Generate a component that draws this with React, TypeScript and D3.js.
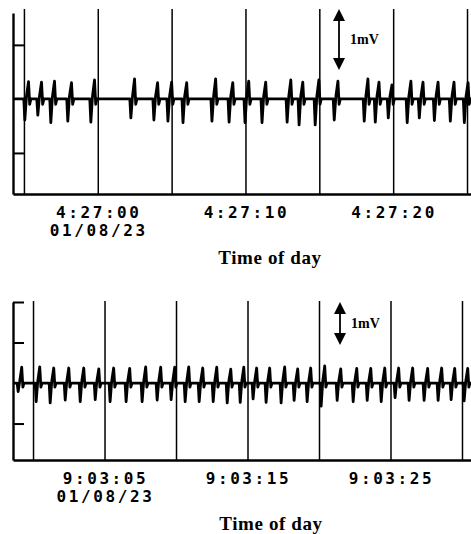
import * as React from 'react';
import * as d3 from 'd3';

// top strip: seconds relative to 4:27:00
const topBeatTimes = [-4.81, -3.93, -3.05, -1.9, -0.34, 2.37, 3.93, 4.88, 5.9, 7.86, 9.02, 10.1, 11.25, 12.95, 13.76, 14.85, 16.14, 18.17, 18.92, 19.8, 21.08, 21.9, 22.92, 24.0, 24.95];
const topBeatUp = [0.32, 0.31, 0.33, 0.3, 0.35, 0.37, 0.3, 0.31, 0.3, 0.37, 0.3, 0.33, 0.31, 0.35, 0.31, 0.35, 0.33, 0.37, 0.31, 0.26, 0.33, 0.31, 0.31, 0.31, 0.3];
const topBeatDown = [0.39, 0.3, 0.44, 0.41, 0.43, 0.35, 0.39, 0.41, 0.44, 0.41, 0.43, 0.44, 0.44, 0.43, 0.48, 0.48, 0.39, 0.41, 0.43, 0.35, 0.44, 0.35, 0.4, 0.41, 0.44];
const topGridSeconds = [-5, 0, 5, 10, 15, 20, 25];
const topTickSeconds = [0, 10, 20];
const topTickLabels = ['4:27:00', '4:27:10', '4:27:20'];

// bottom strip: seconds relative to 9:03:00
const bottomBeatTimes = [-0.91, 0.35, 1.33, 2.38, 3.43, 4.48, 5.52, 6.64, 7.76, 8.81, 9.79, 10.77, 11.75, 12.73, 13.71, 14.62, 15.52, 16.43, 17.48, 18.39, 19.3, 20.28, 21.4, 22.52, 23.5, 24.48, 25.45, 26.43, 27.48, 28.46, 29.37, 30.28];
const bottomBeatUp = [0.39, 0.4, 0.37, 0.37, 0.37, 0.35, 0.37, 0.36, 0.4, 0.39, 0.39, 0.4, 0.37, 0.39, 0.34, 0.39, 0.37, 0.37, 0.4, 0.35, 0.37, 0.42, 0.35, 0.36, 0.36, 0.37, 0.37, 0.37, 0.36, 0.37, 0.36, 0.36];
const bottomBeatDown = [0.21, 0.46, 0.49, 0.42, 0.46, 0.41, 0.46, 0.46, 0.46, 0.42, 0.41, 0.46, 0.46, 0.46, 0.49, 0.48, 0.39, 0.48, 0.49, 0.43, 0.46, 0.57, 0.43, 0.46, 0.43, 0.46, 0.36, 0.43, 0.43, 0.43, 0.41, 0.44];
const bottomGridSeconds = [0, 5, 10, 15, 20, 25, 30];
const bottomTickSeconds = [5, 15, 25];
const bottomTickLabels = ['9:03:05', '9:03:15', '9:03:25'];

const dateLabel = '01/08/23';
const axisTitle = 'Time of day';
const scaleLabel = '1mV';

const W = 471;
const H = 534;

type Panel = {
  times: number[];
  up: number[];
  down: number[];
  grid: number[];
  ticks: number[];
  labels: string[];
  yTicks: number[];
  xDomain: [number, number];
  yDomain: [number, number];
  top: number;
  bottom: number;
  gridTop: number;
  arrowX: number;
  arrowTop: number;
  arrowBottom: number;
  titleX: number;
};

const panels: Panel[] = [
  {
    times: topBeatTimes, up: topBeatUp, down: topBeatDown,
    grid: topGridSeconds, ticks: topTickSeconds, labels: topTickLabels,
    yTicks: [1, -1],
    xDomain: [-5.74, 25.27], yDomain: [-1.76, 1.59],
    top: 13, bottom: 194, gridTop: 9,
    arrowX: 339, arrowTop: 9, arrowBottom: 70, titleX: 270,
  },
  {
    times: bottomBeatTimes, up: bottomBeatUp, down: bottomBeatDown,
    grid: bottomGridSeconds, ticks: bottomTickSeconds, labels: bottomTickLabels,
    yTicks: [2, 1, -1],
    xDomain: [-1.4, 30.63], yDomain: [-1.9, 2.0],
    top: 302, bottom: 460, gridTop: 301,
    arrowX: 340, arrowTop: 302, arrowBottom: 345, titleX: 271,
  },
];

const App: React.FC = () => {
  const svgRef = React.useRef<SVGSVGElement>(null);

  React.useEffect(() => {
    const svg = d3.select(svgRef.current);
    svg.selectAll('*').remove();

    panels.forEach((p) => {
      const g = svg.append('g');
      const x = d3.scaleLinear().domain(p.xDomain).range([13, W]);
      const y = d3.scaleLinear().domain(p.yDomain).range([p.bottom, p.top]);

      // time gridlines + bottom axis
      g.append('g')
        .attr('transform', `translate(0,${p.bottom})`)
        .call(d3.axisBottom(x).tickValues(p.grid).tickSize(-(p.bottom - p.gridTop)).tickSizeOuter(0).tickFormat(() => ''))
        .call((a) => a.select('.domain').attr('stroke-width', 2.4))
        .call((a) => a.selectAll('.tick line').attr('stroke-width', 1.5));

      // left amplitude axis, ticks pointing inwards
      g.append('g')
        .attr('transform', 'translate(13,0)')
        .call(d3.axisRight(y).tickValues(p.yTicks).tickSize(11).tickSizeOuter(0).tickFormat(() => ''))
        .call((a) => a.select('.domain').attr('stroke-width', 2.4))
        .call((a) => a.selectAll('.tick line').attr('stroke-width', 2));

      // trace
      const pts: [number, number][] = [[p.xDomain[0], 0]];
      p.times.forEach((t, i) => {
        pts.push([t - 0.2, 0]);
        pts.push([t - 0.13, -p.down[i]]);
        pts.push([t - 0.02, 0.04]);
        pts.push([t + 0.12, p.up[i]]);
        pts.push([t + 0.2, -0.1]);
        pts.push([t + 0.28, 0]);
      });
      pts.push([p.xDomain[1], 0]);
      const line = d3.line<[number, number]>().x((d) => x(d[0])).y((d) => y(d[1]));
      g.append('path')
        .attr('d', line(pts))
        .attr('fill', 'none')
        .attr('stroke', '#000')
        .attr('stroke-width', 2.8)
        .attr('stroke-linejoin', 'round');

      // tick labels
      const lab = g.append('g')
        .attr('font-family', 'DejaVu Sans Mono')
        .attr('font-weight', 'bold')
        .attr('font-size', 16)
        .attr('letter-spacing', 2.6)
        .attr('text-anchor', 'middle');
      p.ticks.forEach((t, i) => {
        lab.append('text').attr('x', x(t) + 1).attr('y', p.bottom + 24).text(p.labels[i]);
        if (i === 0) lab.append('text').attr('x', x(t) + 1).attr('y', p.bottom + 42).text(dateLabel);
      });

      g.append('text')
        .attr('x', p.titleX)
        .attr('y', p.bottom + 70)
        .attr('text-anchor', 'middle')
        .attr('font-family', 'Liberation Serif')
        .attr('font-weight', 'bold')
        .attr('font-size', 19)
        .attr('letter-spacing', 0.6)
        .text(axisTitle);

      // 1mV calibration arrow
      const ax = p.arrowX;
      g.append('line')
        .attr('x1', ax).attr('x2', ax)
        .attr('y1', p.arrowTop + 8).attr('y2', p.arrowBottom - 8)
        .attr('stroke', '#000').attr('stroke-width', 1.8);
      g.append('path')
        .attr('d', `M${ax},${p.arrowTop}L${ax - 6},${p.arrowTop + 12}L${ax + 6},${p.arrowTop + 12}Z`)
        .attr('fill', '#000');
      g.append('path')
        .attr('d', `M${ax},${p.arrowBottom}L${ax - 6},${p.arrowBottom - 12}L${ax + 6},${p.arrowBottom - 12}Z`)
        .attr('fill', '#000');
      g.append('text')
        .attr('x', ax + 11)
        .attr('y', (p.arrowTop + p.arrowBottom) / 2 + 4)
        .attr('font-family', 'Liberation Serif')
        .attr('font-weight', 'bold')
        .attr('font-size', 14)
        .text(scaleLabel);
    });
  }, []);

  return (
    <div style={{ position: 'absolute', left: 0, top: 0 }}>
      <svg ref={svgRef} width={W} height={H} style={{ display: 'block', background: '#fff' }} />
    </div>
  );
};

export default App;
